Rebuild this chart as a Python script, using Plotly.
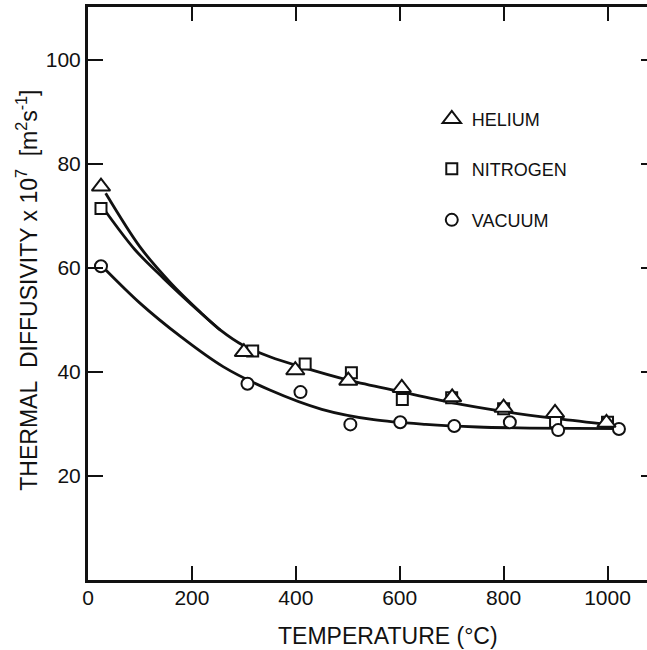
import plotly.graph_objects as go

# Measured thermal diffusivity (x 10^7 m^2/s) vs temperature (deg C)
helium_T = [25, 300, 399, 501, 604, 701, 800, 899, 998]
helium_D = [75.6, 43.8, 40.3, 38.3, 36.9, 35.1, 33.1, 32.1, 30.2]

nitrogen_T = [25, 317, 418, 507, 605, 700, 800, 900, 1000]
nitrogen_D = [71.4, 44.0, 41.5, 39.8, 34.7, 35.0, 32.9, 30.4, 30.3]

vacuum_T = [25, 307, 409, 505, 601, 705, 812, 905, 1022]
vacuum_D = [60.3, 37.7, 36.1, 29.9, 30.3, 29.6, 30.3, 28.8, 29.0]

# Smoothed trend curves traced through the data
helium_fit_T = [34, 100, 160, 216, 255, 300, 350, 409, 505, 601, 700, 800, 895, 990]
helium_fit_D = [74.3, 64.0, 57.0, 51.5, 48.0, 45.0, 42.9, 41.0, 38.3, 36.2, 34.1, 32.4, 31.1, 30.0]

nitrogen_fit_T = [34, 90, 145, 216, 255]
nitrogen_fit_D = [70.8, 63.5, 58.0, 51.4, 48.0]

vacuum_fit_T = [30, 100, 178, 260, 350, 450, 550, 650, 750, 850, 1022]
vacuum_fit_D = [60.0, 53.2, 46.8, 41.0, 36.5, 32.8, 30.8, 29.9, 29.4, 29.2, 29.1]

x_ticks = [0, 200, 400, 600, 800, 1000]
y_ticks = [20, 40, 60, 80, 100]
X_RANGE = [0, 1076]
Y_RANGE = [0, 110.1]

FONT = "Liberation Sans, Arial, sans-serif"
BLACK = "#111111"

fig = go.Figure()

curve_line = dict(color=BLACK, width=2.8, shape="spline", smoothing=0.9)
for xs, ys in [(helium_fit_T, helium_fit_D),
               (nitrogen_fit_T, nitrogen_fit_D),
               (vacuum_fit_T, vacuum_fit_D)]:
    fig.add_trace(go.Scatter(x=xs, y=ys, mode="lines", line=curve_line,
                             showlegend=False, hoverinfo="skip"))

marker_line = dict(color=BLACK, width=2)
fig.add_trace(go.Scatter(x=nitrogen_T, y=nitrogen_D, mode="markers", name="NITROGEN",
                         marker=dict(symbol="square", size=11, color="white", line=marker_line),
                         legend="legend2"))
fig.add_trace(go.Scatter(x=vacuum_T, y=vacuum_D, mode="markers", name="VACUUM",
                         marker=dict(symbol="circle", size=12, color="white", line=marker_line),
                         legend="legend3"))
fig.add_trace(go.Scatter(x=helium_T, y=helium_D, mode="markers", name="HELIUM",
                         marker=dict(symbol="triangle-up", size=16, color="white", line=marker_line),
                         legend="legend"))

# companion axes: right-hand tick marks and the bottom tick labels
fig.add_trace(go.Scatter(x=[None], y=[None], xaxis="x2", yaxis="y2",
                         showlegend=False, hoverinfo="skip"))

legend_common = dict(x=0.615, xanchor="left", yanchor="middle", bgcolor="rgba(0,0,0,0)",
                     borderwidth=0, font=dict(family=FONT, size=18, color=BLACK))
tick_font = dict(family=FONT, size=21, color=BLACK)

fig.update_layout(
    width=647, height=650,
    margin=dict(l=88, r=0, t=7, b=70),
    paper_bgcolor="white", plot_bgcolor="white",
    font=dict(family=FONT, color=BLACK),
    legend=dict(y=0.804, **legend_common),
    legend2=dict(y=0.717, **legend_common),
    legend3=dict(y=0.628, **legend_common),
    xaxis=dict(range=X_RANGE, tickvals=x_ticks, ticks="inside", ticklen=14, tickwidth=2,
               tickcolor=BLACK, showline=True, linewidth=3, linecolor=BLACK, mirror="ticks",
               showgrid=False, zeroline=False, showticklabels=False),
    xaxis2=dict(range=X_RANGE, tickvals=x_ticks, overlaying="x", side="bottom",
                anchor="free", position=0, ticks="", showline=False, showgrid=False,
                zeroline=False, ticklabelstandoff=3, tickfont=tick_font),
    yaxis=dict(range=Y_RANGE, tickvals=y_ticks, ticks="inside", ticklen=15, tickwidth=2,
               tickcolor=BLACK, showline=True, linewidth=3, linecolor=BLACK, mirror=False,
               showgrid=False, zeroline=False, tickfont=tick_font),
    yaxis2=dict(range=Y_RANGE, tickvals=y_ticks, overlaying="y", side="right", anchor="x",
                ticks="inside", ticklen=6, tickwidth=2, tickcolor=BLACK, showticklabels=False,
                showline=False, showgrid=False, zeroline=False),
    annotations=[
        dict(text="TEMPERATURE (°C)", xref="paper", yref="paper", x=0.537, y=-0.098,
             xanchor="center", yanchor="middle", showarrow=False,
             font=dict(family=FONT, size=23, color=BLACK)),
        dict(text="THERMAL\u00a0\u00a0DIFFUSIVITY x 10<sup>7</sup>\u00a0\u00a0[m<sup>2</sup>s<sup>-1</sup>]",
             xref="paper", yref="paper", x=-0.109, y=0.505, textangle=-90,
             xanchor="center", yanchor="middle", showarrow=False,
             font=dict(family=FONT, size=23, color=BLACK)),
    ],
)

fig.write_html("out.html")
